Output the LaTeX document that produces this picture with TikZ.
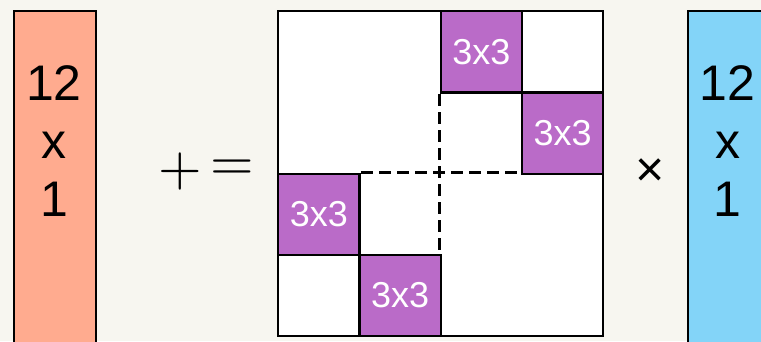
\documentclass[tikz,border=0pt]{standalone}
\usepackage{fontspec}
\setmainfont{Liberation Sans}
\definecolor{bg}{HTML}{F7F6F0}
\definecolor{salmon}{HTML}{FFAB8F}
\definecolor{skyb}{HTML}{83D4F8}
\definecolor{purp}{HTML}{BA6BC8}
\tikzset{
  vec/.style={draw, rectangle, minimum width=82pt, minimum height=360pt, inner sep=0pt, anchor=north west},
  big/.style={font=\fontsize{50}{57}\selectfont, inner sep=0pt, anchor=base},
  blk/.style={draw, fill=purp, rectangle, minimum width=81.25pt, minimum height=81.25pt, inner sep=0pt, anchor=north west, text=white, font=\fontsize{36}{40}\selectfont},
  dline/.style={dash pattern=on 12pt off 6pt, dash phase=-3pt},
}
\begin{document}
\begin{tikzpicture}[x=1pt, y=-1pt, line width=2.4pt]
\fill[bg] (0,0) rectangle (761,341);
\useasboundingbox (0,0) rectangle (761,341);
\clip (0,0) rectangle (761,341);
% left vector
\node[vec, fill=salmon] (lv) at (13,10) {};
\node[big] (l12) at (54,100) {12};
\node[big] (lx) at (54,158) {x};
\node[big] (l1) at (54,216) {1};
% plus equals
\node[scale=5.6, inner sep=0pt] (plus) at (180.5,171) {$+$};
\node[scale=5.6, inner sep=0pt] (eq) at (232.5,170.5) {$=$};
% matrix
\node[draw, fill=white, rectangle, minimum width=325pt, minimum height=325pt, inner sep=0pt, anchor=north west] (M) at (277,10) {};
\draw[dline] (358.25,172.5) coordinate (h1) -- (520.75,172.5) coordinate (h2);
\draw[dline] (439.5,91.25) coordinate (v1) -- (439.5,253.75) coordinate (v2);
\node[blk] (b1) at (439.5,10) {3x3};
\node[blk] (b2) at (520.75,91.25) {3x3};
\node[blk] (b3) at (277,172.5) {3x3};
\node[blk] (b4) at (358.25,253.75) {3x3};
% times
\node[font=\fontsize{50}{57}\selectfont, inner sep=0pt] (times) at (650,172.5) {×};
% right vector
\node[vec, fill=skyb] (rv) at (686.5,10) {};
\node[big] (r12) at (727.5,100) {12};
\node[big] (rx) at (727.5,158) {x};
\node[big] (r1) at (727.5,216) {1};
\end{tikzpicture}
\end{document}
